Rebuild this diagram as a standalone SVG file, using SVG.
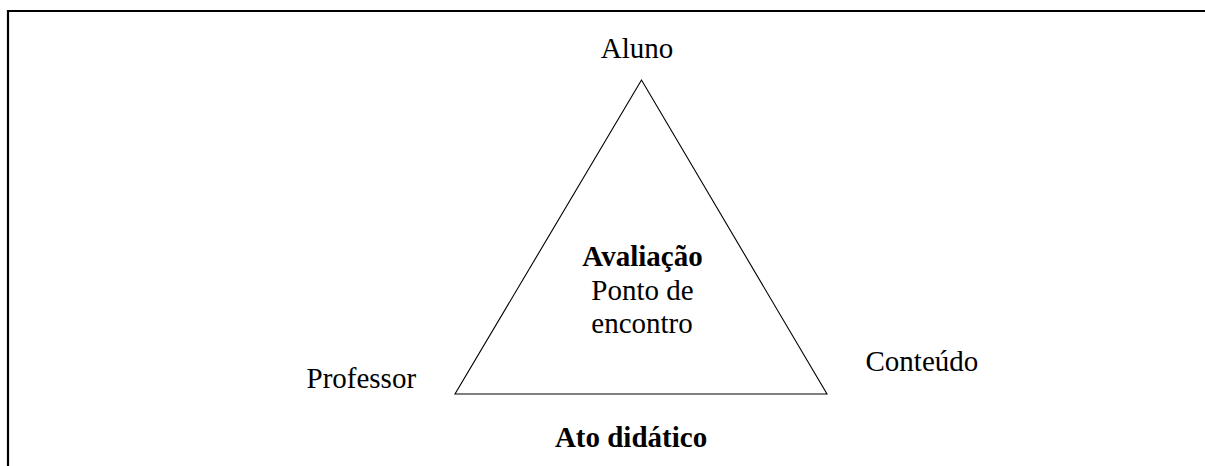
<svg xmlns="http://www.w3.org/2000/svg" width="1205" height="466" viewBox="0 0 1205 466">
<style>
.t{font-family:"Liberation Serif","Times New Roman",serif;font-size:29px;fill:#000}
.b{font-weight:bold}
.m{text-anchor:middle}
</style>
<rect width="1205" height="466" fill="#fff"/>
<g id="frame" fill="none" stroke="#000" stroke-width="2.2">
<polyline points="8,466 8,11 1205,11"/>
</g>
<g id="connectors">
<polygon points="641.5,80 455,394 827,394" fill="none" stroke="#000" stroke-width="1.1"/>
</g>
<g id="aluno"><text class="t m" x="637" y="58">Aluno</text></g>
<g id="professor"><text class="t" x="306.5" y="388">Professor</text></g>
<g id="conteudo"><text class="t" x="865.5" y="371">Conteúdo</text></g>
<g id="avaliacao">
<text class="t b m" x="642.5" y="266">Avaliação</text>
<text class="t m" x="642.5" y="299.5">Ponto de</text>
<text class="t m" x="642" y="333">encontro</text>
</g>
<g id="ato"><text class="t b m" x="631" y="447">Ato didático</text></g>
</svg>
